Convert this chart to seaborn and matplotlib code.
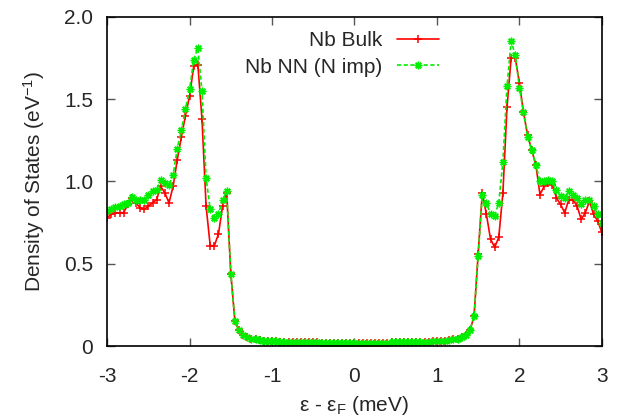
import numpy as np
import matplotlib
matplotlib.use("Agg")
import matplotlib.pyplot as plt
import seaborn as sns

# energy grid (meV), 0.05 meV steps from -3 to 3
energy = np.round(np.linspace(-3.0, 3.0, 121), 2)

# shared gap region (-1.40 .. 1.40), both curves coincide there
gap_half = [0.095, 0.068, 0.054, 0.046, 0.040, 0.036, 0.033, 0.031, 0.029, 0.028,
            0.027, 0.026, 0.025, 0.024, 0.024, 0.023, 0.023, 0.022, 0.022, 0.022,
            0.021, 0.021, 0.021, 0.021, 0.020, 0.020, 0.020, 0.020]
gap_dos = gap_half + [0.020] + gap_half[::-1]

# Nb bulk, outer parts (-3.00 .. -1.45 and 1.45 .. 3.00)
bulk_left = [0.78, 0.80, 0.81, 0.81, 0.81, 0.86, 0.90, 0.87, 0.84, 0.83,
             0.85, 0.87, 0.89, 0.97, 0.93, 0.87, 0.97, 1.13, 1.27, 1.40,
             1.52, 1.70, 1.71, 1.38, 0.85, 0.61, 0.61, 0.68, 0.85, 0.93,
             0.44, 0.15]
bulk_right = [0.18, 0.56, 0.93, 0.80, 0.65, 0.60, 0.66, 0.93, 1.45, 1.75,
              1.75, 1.60, 1.42, 1.28, 1.19, 1.10, 0.92, 0.97, 0.99, 0.98,
              0.90, 0.86, 0.81, 0.89, 0.89, 0.85, 0.77, 0.81, 0.88, 0.80,
              0.76, 0.69]

# Nb next to N impurity
nimp_left = [0.82, 0.83, 0.845, 0.85, 0.86, 0.87, 0.905, 0.89, 0.89, 0.89,
             0.92, 0.94, 0.95, 1.01, 0.99, 0.98, 1.04, 1.20, 1.31, 1.44,
             1.56, 1.74, 1.81, 1.55, 1.02, 0.83, 0.78, 0.80, 0.89, 0.94,
             0.44, 0.15]
nimp_right = [0.18, 0.55, 0.92, 0.87, 0.80, 0.79, 0.87, 1.12, 1.58, 1.85,
              1.77, 1.57, 1.42, 1.27, 1.19, 1.10, 1.00, 1.00, 1.01, 1.00,
              0.95, 0.91, 0.90, 0.94, 0.92, 0.90, 0.86, 0.89, 0.89, 0.85,
              0.80, 0.75]

dos_bulk = bulk_left + gap_dos + bulk_right
dos_nimp = nimp_left + gap_dos + nimp_right

x_ticks = [-3, -2, -1, 0, 1, 2, 3]
y_ticks = [0, 0.5, 1.0, 1.5, 2.0]
y_tick_labels = ["0", "0.5", "1.0", "1.5", "2.0"]

RED = '#ff0000'
GREEN = '#00ee00'

sns.set_style("ticks")
plt.rcParams['font.family'] = ['Liberation Sans', 'DejaVu Sans']
plt.rcParams['mathtext.fontset'] = 'custom'
plt.rcParams['mathtext.rm'] = 'Liberation Sans'
plt.rcParams['mathtext.it'] = 'Liberation Sans:italic'
plt.rcParams['axes.unicode_minus'] = False

fig = plt.figure(figsize=(6.23, 4.2), dpi=100)
ax = fig.add_axes([0.172, 0.176, 0.794, 0.784])

# seaborn defaults marker edges to white, so set them to the line colour
sns.lineplot(x=energy, y=dos_bulk, ax=ax, color=RED, linewidth=1.2,
             marker='+', markersize=5.5, markeredgewidth=1.1, markeredgecolor=RED,
             label='Nb Bulk')
sns.lineplot(x=energy, y=dos_nimp, ax=ax, color=GREEN, linewidth=1.2,
             linestyle=(0, (2.5, 1.5)), marker=(8, 2, 0), markersize=5.5,
             markeredgewidth=1.0, markeredgecolor=GREEN, label='Nb NN (N imp)')

ax.set_xlim(-3, 3)
ax.set_ylim(0, 2.0)
ax.set_xticks(x_ticks)
ax.set_xticklabels([str(t) for t in x_ticks])
ax.set_yticks(y_ticks)
ax.set_yticklabels(y_tick_labels)
ax.tick_params(direction='in', length=6, width=1, top=True, right=True,
               labelsize=15, color='#555555')
ax.tick_params(axis='x', pad=15)
ax.tick_params(axis='y', pad=10)
for s in ax.spines.values():
    s.set_color('black')
    s.set_linewidth(1.2)

ax.set_xlabel(r'ε - ε$_\mathregular{F}$ (meV)', fontsize=15, labelpad=6)
ax.set_ylabel(r'Density of States (eV$^\mathregular{-1}$)', fontsize=15, labelpad=12)

ax.legend(loc='upper right', bbox_to_anchor=(0.70, 1.0), frameon=False,
          markerfirst=False, fontsize=15, handlelength=2.0, handletextpad=0.7,
          labelspacing=0.35, numpoints=1, borderaxespad=0.3)

fig.savefig('out.png', dpi=100)
